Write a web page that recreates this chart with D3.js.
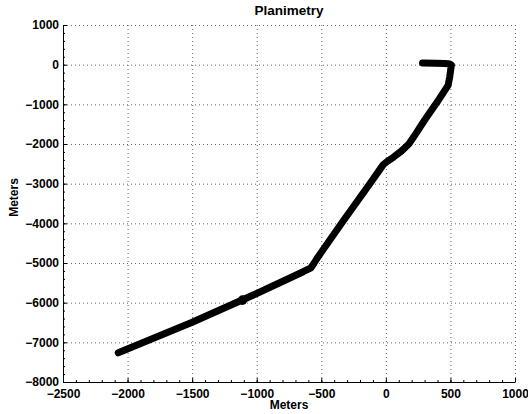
<!DOCTYPE html>
<html>
<head>
<meta charset="utf-8">
<script src="https://cdn.jsdelivr.net/npm/d3@7"></script>
<style>
	body { margin: 0; background: #fff; }
	svg { display: block; font-family: "Liberation Sans", Arial, Helvetica, sans-serif; }
	.tick text { font-weight: bold; font-size: 12px; fill: #000; }
</style>
</head>
<body>
<svg id="chart" width="528" height="414"></svg>
<script>
// track (meters)
var trackX = [284, 380, 460, 495, 508, 505, 495, 482, 400, 302, 230, 178, 120, 60, 15, -20, -124, -343, -524, -555, -580, -640, -1000, -1504, -2072];
var trackY = [43, 38, 30, 15, -10, -60, -300, -520, -930, -1389, -1750, -2000, -2180, -2330, -2430, -2520, -3000, -4000, -4840, -5000, -5120, -5220, -5770, -6500, -7265];
var blobX = [-1110];
var blobY = [-5935];
var xTicks = [-2500, -2000, -1500, -1000, -500, 0, 500, 1000];
var yTicks = [1000, 0, -1000, -2000, -3000, -4000, -5000, -6000, -7000, -8000];

var svg = d3.select("#chart"),
    margin = {top: 25, right: 13, bottom: 32, left: 63},
    width = +svg.attr("width") - margin.left - margin.right,
    height = +svg.attr("height") - margin.top - margin.bottom,
    g = svg.append("g").attr("transform", "translate(" + margin.left + "," + margin.top + ")");

var x = d3.scaleLinear().domain([-2500, 1000]).range([0, width]);
var y = d3.scaleLinear().domain([-8000, 1000]).range([height, 0]);
var fmt = d3.format("d");

// dotted grid
g.append("g")
    .selectAll("line")
    .data(xTicks.slice(1))
    .enter().append("line")
      .attr("x1", function(d) { return x(d) + 0.5; })
      .attr("x2", function(d) { return x(d) + 0.5; })
      .attr("y1", 0)
      .attr("y2", height)
      .attr("stroke", "#666")
      .attr("stroke-dasharray", "1,3");

g.append("g")
    .selectAll("line")
    .data(yTicks.slice(0, -1))
    .enter().append("line")
      .attr("x1", 0)
      .attr("x2", width)
      .attr("y1", function(d) { return y(d) + 0.5; })
      .attr("y2", function(d) { return y(d) + 0.5; })
      .attr("stroke", "#666")
      .attr("stroke-dasharray", "1,3");

// minor ticks
var xMinor = d3.range(-2500, 1001, 100);
var yMinor = d3.range(-8000, 1001, 200);

g.append("g")
    .call(d3.axisBottom(x).tickValues(xMinor).tickSize(-2).tickFormat(""))
    .attr("transform", "translate(0," + height + ")")
    .call(function(s) { s.select(".domain").remove(); });

g.append("g")
    .call(d3.axisLeft(y).tickValues(yMinor).tickSize(-2).tickFormat(""))
    .call(function(s) { s.select(".domain").remove(); });

// main axes
g.append("g")
    .attr("transform", "translate(0," + height + ")")
    .call(d3.axisBottom(x).tickValues(xTicks).tickSize(-4).tickSizeOuter(0).tickPadding(5).tickFormat(fmt))
    .call(function(s) { s.selectAll(".tick text").attr("dy", "0.9em"); });

g.append("g")
    .call(d3.axisLeft(y).tickValues(yTicks).tickSize(-4).tickSizeOuter(0).tickPadding(4).tickFormat(fmt));

svg.selectAll(".domain").attr("stroke", "#000");

// track
g.append("path")
    .datum(d3.zip(trackX, trackY))
    .attr("fill", "none")
    .attr("stroke", "#000")
    .attr("stroke-width", 7)
    .attr("stroke-linecap", "round")
    .attr("stroke-linejoin", "round")
    .attr("d", d3.line()
        .x(function(d) { return x(d[0]); })
        .y(function(d) { return y(d[1]); }));

g.selectAll(".blob")
    .data(d3.zip(blobX, blobY))
    .enter().append("circle")
      .attr("class", "blob")
      .attr("cx", function(d) { return x(d[0]); })
      .attr("cy", function(d) { return y(d[1]); })
      .attr("r", 4.8)
      .attr("fill", "#000");

// labels
svg.append("text")
    .attr("x", margin.left + width / 2)
    .attr("y", 15)
    .attr("text-anchor", "middle")
    .attr("font-weight", "bold")
    .attr("font-size", 13.5)
    .text("Planimetry");

svg.append("text")
    .attr("x", margin.left + width / 2)
    .attr("y", 409)
    .attr("text-anchor", "middle")
    .attr("font-weight", "bold")
    .attr("font-size", 12)
    .text("Meters");

svg.append("text")
    .attr("transform", "translate(18," + (margin.top + height / 2 - 6) + ") rotate(-90)")
    .attr("text-anchor", "middle")
    .attr("font-weight", "bold")
    .attr("font-size", 12)
    .text("Meters");
</script>
</body>
</html>
